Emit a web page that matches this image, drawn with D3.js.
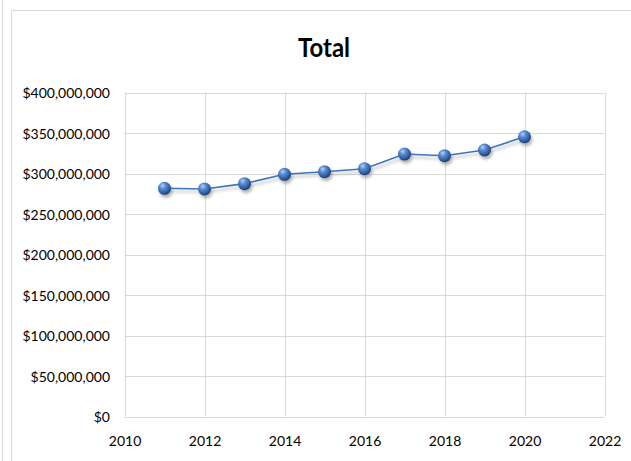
<!DOCTYPE html>
<html>
<head>
<meta charset="utf-8">
<script src="https://cdn.jsdelivr.net/npm/d3@7/dist/d3.min.js"></script>
<style>
  html, body { margin: 0; padding: 0; background: #ffffff; }
  svg { display: block; }
</style>
</head>
<body>
<script>
// ---- data ----
const years = [2011, 2012, 2013, 2014, 2015, 2016, 2017, 2018, 2019, 2020];
const totals = [281700000, 280900000, 287500000, 299000000, 302200000, 305900000, 324000000, 322000000, 329000000, 345400000];
const xTicks = [2010, 2012, 2014, 2016, 2018, 2020, 2022];
const yTicks = [0, 50000000, 100000000, 150000000, 200000000, 250000000, 300000000, 350000000, 400000000];
const title = "Total";

const W = 631, H = 461;
const svg = d3.select("body").append("svg").attr("width", W).attr("height", H);

const defs = svg.append("defs");
const grad = defs.append("radialGradient").attr("id", "ball")
  .attr("cx", "40%").attr("cy", "35%").attr("r", "65%").attr("fx", "35%").attr("fy", "28%");
grad.append("stop").attr("offset", "0%").attr("stop-color", "#b9d3f3");
grad.append("stop").attr("offset", "35%").attr("stop-color", "#5b8fd3");
grad.append("stop").attr("offset", "75%").attr("stop-color", "#2f62a8");
grad.append("stop").attr("offset", "100%").attr("stop-color", "#1b3d6e");
const blur = defs.append("filter").attr("id", "shadow").attr("x", "-50%").attr("y", "-50%").attr("width", "200%").attr("height", "200%");
blur.append("feGaussianBlur").attr("stdDeviation", 1.6);

// frame lines
svg.append("line").attr("x1", 2.5).attr("x2", 2.5).attr("y1", 0).attr("y2", H)
  .attr("stroke", "#d9d9d9").attr("stroke-width", 1);
svg.append("path").attr("d", `M11.5,${H} L11.5,10.5 L${W},10.5`)
  .attr("fill", "none").attr("stroke", "#d9d9d9").attr("stroke-width", 1);

const x = d3.scaleLinear().domain([2010, 2022]).range([124.5, 604.5]);
const y = d3.scaleLinear().domain([0, 400000000]).range([416.5, 92.5]);

// gridlines
const grid = svg.append("g");
grid.selectAll("line.h").data(yTicks).join("line")
  .attr("x1", x(2010)).attr("x2", x(2022))
  .attr("y1", d => Math.round(y(d)) + 0.5).attr("y2", d => Math.round(y(d)) + 0.5)
  .attr("stroke", "#d9d9d9").attr("stroke-width", 1);
grid.selectAll("line.v").data(xTicks).join("line")
  .attr("x1", d => Math.round(x(d)) + 0.5).attr("x2", d => Math.round(x(d)) + 0.5)
  .attr("y1", y(400000000)).attr("y2", y(0))
  .attr("stroke", "#d9d9d9").attr("stroke-width", 1);

// axes labels using d3 axes
const fmt = d => "$" + d3.format(",")(d);
const yAxis = svg.append("g").attr("transform", "translate(110,0)")
  .call(d3.axisLeft(y).tickValues(yTicks).tickFormat(fmt).tickSize(0).tickPadding(0));
yAxis.select(".domain").remove();
yAxis.selectAll("text").attr("font-family", "Lato, 'DejaVu Sans', sans-serif").attr("font-size", 14)
  .attr("fill", "#000").attr("dy", "0.36em");

const xAxis = svg.append("g").attr("transform", "translate(0,436)")
  .call(d3.axisBottom(x).tickValues(xTicks).tickFormat(d3.format("d")).tickSize(0).tickPadding(0));
xAxis.select(".domain").remove();
xAxis.selectAll("text").attr("font-family", "Lato, 'DejaVu Sans', sans-serif").attr("font-size", 14)
  .attr("fill", "#000").attr("dy", "0.72em");

// title
svg.append("text").attr("x", 324).attr("y", 56.5).attr("text-anchor", "middle")
  .attr("font-family", "Lato, 'DejaVu Sans', sans-serif").attr("font-weight", "bold")
  .attr("font-size", 26).attr("textLength", 52).attr("lengthAdjust", "spacingAndGlyphs")
  .attr("fill", "#000").text(title);

const pts = years.map((yr, i) => [yr, totals[i]]);
const line = d3.line().x(d => x(d[0])).y(d => y(d[1]));

// line shadow
svg.append("path").datum(pts).attr("d", line).attr("transform", "translate(1.5,3)")
  .attr("fill", "none").attr("stroke", "#9a9a9a").attr("stroke-opacity", 0.5).attr("stroke-width", 2)
  .attr("filter", "url(#shadow)");
svg.append("path").datum(pts).attr("d", line)
  .attr("fill", "none").attr("stroke", "#3d74bf").attr("stroke-width", 1.6);

// marker shadows
svg.append("g").selectAll("circle").data(pts).join("circle")
  .attr("cx", d => x(d[0]) + 1.5).attr("cy", d => y(d[1]) + 3).attr("r", 6.5)
  .attr("fill", "#7a7a7a").attr("opacity", 0.55).attr("filter", "url(#shadow)");
// markers
svg.append("g").selectAll("circle").data(pts).join("circle")
  .attr("cx", d => x(d[0])).attr("cy", d => y(d[1])).attr("r", 6.5)
  .attr("fill", "url(#ball)");
</script>
</body>
</html>
